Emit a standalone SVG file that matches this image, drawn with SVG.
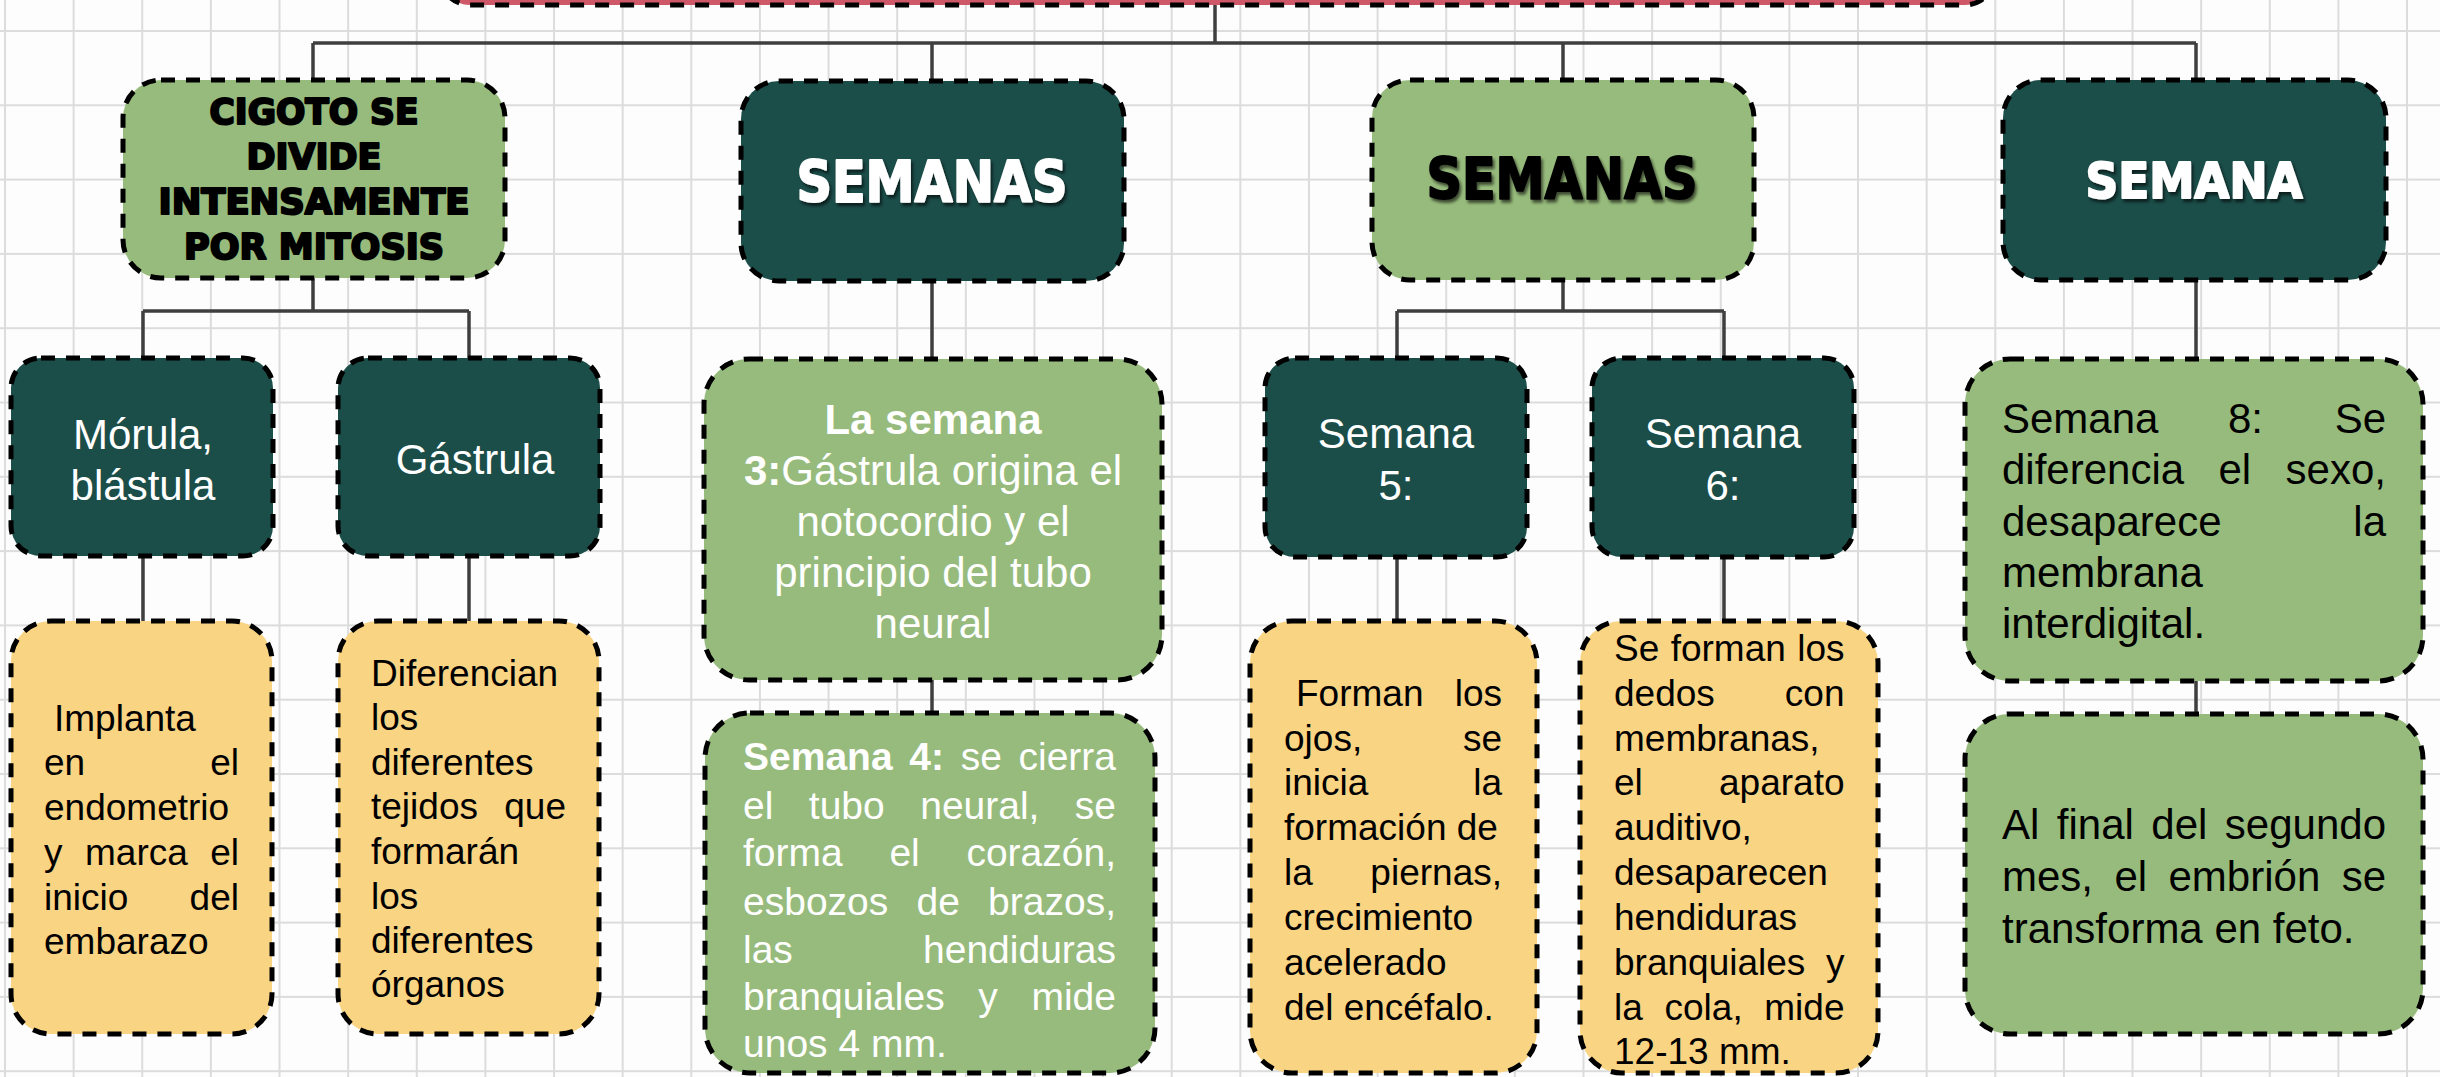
<svg xmlns="http://www.w3.org/2000/svg" width="2440" height="1077" viewBox="0 0 2440 1077">
<style>
.box{stroke:#000;stroke-width:5;stroke-dasharray:14 11}
.dark{fill:#1b4d49}
.lg{fill:#97bb7c}
.yel{fill:#f9d483}
.pink{fill:#cf5868}
.cn{fill:none;stroke:#3f3f3f;stroke-width:3.5}
.disp{font-family:"DejaVu Sans",sans-serif;font-weight:bold;text-anchor:middle;stroke-linejoin:round}
.t{font-family:"Liberation Sans",Arial,sans-serif}
.c{text-anchor:middle}
.e{text-anchor:end}
.b{font-weight:bold}
.w{fill:#fff}
.k{fill:#000}
</style>
<defs>
<pattern id="grid" x="4" y="30" width="68.63" height="74.3" patternUnits="userSpaceOnUse">
<path d="M1 0V74.3M0 1H68.63" stroke="#dcdcdc" stroke-width="2" fill="none"/>
</pattern>
<filter id="sh" x="-10%" y="-20%" width="120%" height="150%">
<feDropShadow dx="2" dy="3" stdDeviation="1.5" flood-color="#000" flood-opacity="0.6"/>
</filter>
</defs>
<rect width="2440" height="1077" fill="#fdfdfd"/>
<rect width="2440" height="1077" fill="url(#grid)"/>

<g id="connectors">
<path class="cn" d="M1215 5V43M313 43H2196M313 43V80M932 43V81M1563 43V80M2196 43V80"/>
<path class="cn" d="M313 278V311M143 311H469M143 311V358M469 311V358"/>
<path class="cn" d="M143 556V621M469 556V621"/>
<path class="cn" d="M932 281V359M932 680V713"/>
<path class="cn" d="M1563 280V311M1397 311H1724M1397 311V358M1724 311V358"/>
<path class="cn" d="M1397 557V621M1724 557V621"/>
<path class="cn" d="M2196 280V359M2196 681V714"/>
</g>

<g id="title">
<rect class="box pink" x="440" y="-60" width="1555" height="65" rx="30"/>
</g>

<g id="n-cigoto">
<rect class="box lg" x="123" y="80" width="382" height="198" rx="38"/>
<g class="disp k" font-size="36" stroke="#000" stroke-width="2.2">
<text x="314" y="124" textLength="209" lengthAdjust="spacingAndGlyphs">CIGOTO SE</text>
<text x="314" y="169" textLength="135" lengthAdjust="spacingAndGlyphs">DIVIDE</text>
<text x="314" y="214" textLength="311" lengthAdjust="spacingAndGlyphs">INTENSAMENTE</text>
<text x="314" y="259" textLength="260" lengthAdjust="spacingAndGlyphs">POR MITOSIS</text>
</g>
</g>

<g id="n-semanas1">
<rect class="box dark" x="741" y="81" width="383" height="200" rx="38"/>
<text class="disp w" x="932" y="202" font-size="57" textLength="271" lengthAdjust="spacingAndGlyphs" stroke="#fff" stroke-width="2" filter="url(#sh)">SEMANAS</text>
</g>

<g id="n-semanas2">
<rect class="box lg" x="1372" y="80" width="382" height="200" rx="38"/>
<text class="disp k" x="1562" y="199" font-size="57" textLength="271" lengthAdjust="spacingAndGlyphs" stroke="#000" stroke-width="2" filter="url(#sh)">SEMANAS</text>
</g>

<g id="n-semana">
<rect class="box dark" x="2003" y="80" width="383" height="200" rx="38"/>
<text class="disp w" x="2194" y="198" font-size="49" textLength="217" lengthAdjust="spacingAndGlyphs" stroke="#fff" stroke-width="2" filter="url(#sh)">SEMANA</text>
</g>

<g id="n-morula">
<rect class="box dark" x="11" y="358" width="262" height="198" rx="30"/>
<g class="t c w" font-size="42">
<text x="143" y="449">Mórula,</text>
<text x="143" y="500">blástula</text>
</g>
</g>

<g id="n-gastrula">
<rect class="box dark" x="338" y="358" width="262" height="198" rx="30"/>
<text class="t c w" font-size="42" x="475" y="474">Gástrula</text>
</g>

<g id="n-implanta">
<rect class="box yel" x="11" y="621" width="261" height="413" rx="40"/>
<g class="t k" font-size="37">
<text x="54" y="731">Implanta</text>
<text y="775"><tspan x="44">en</tspan></text>
<text x="239" y="775" class="e">el</text>
<text x="44" y="820">endometrio</text>
<text y="865"><tspan x="44">y</tspan><tspan x="85">marca</tspan></text>
<text x="239" y="865" class="e">el</text>
<text x="44" y="910">inicio</text>
<text x="239" y="910" class="e">del</text>
<text x="44" y="954">embarazo</text>
</g>
</g>

<g id="n-diferencian">
<rect class="box yel" x="338" y="621" width="261" height="413" rx="40"/>
<g class="t k" font-size="37">
<text x="371" y="686">Diferencian</text>
<text x="371" y="730">los</text>
<text x="371" y="775">diferentes</text>
<text x="371" y="819">tejidos</text>
<text x="566" y="819" class="e">que</text>
<text x="371" y="864">formarán</text>
<text x="371" y="909">los</text>
<text x="371" y="953">diferentes</text>
<text x="371" y="997">órganos</text>
</g>
</g>

<g id="n-semana3">
<rect class="box lg" x="704" y="359" width="458" height="321" rx="45"/>
<g class="t c w" font-size="42">
<text x="933" y="434" class="b">La semana</text>
<text x="933" y="485"><tspan class="b">3:</tspan>Gástrula origina el</text>
<text x="933" y="536">notocordio y el</text>
<text x="933" y="587">principio del tubo</text>
<text x="933" y="638">neural</text>
</g>
</g>

<g id="n-semana4">
<rect class="box lg" x="705" y="713" width="450" height="360" rx="45"/>
<g class="t w" font-size="39">
<text y="770"><tspan x="743" class="b">Semana</tspan><tspan x="909.3" class="b">4:</tspan><tspan x="960.7">se</tspan></text>
<text x="1116" y="770" class="e">cierra</text>
<text y="819"><tspan x="743">el</tspan><tspan x="808.8">tubo</tspan><tspan x="920.2">neural,</tspan></text>
<text x="1116" y="819" class="e">se</text>
<text y="866"><tspan x="743">forma</tspan><tspan x="889.4">el</tspan></text>
<text x="1116" y="866" class="e">corazón,</text>
<text y="915"><tspan x="743">esbozos</tspan><tspan x="916.5">de</tspan></text>
<text x="1116" y="915" class="e">brazos,</text>
<text x="743" y="963">las</text>
<text x="1116" y="963" class="e">hendiduras</text>
<text y="1010"><tspan x="743">branquiales</tspan><tspan x="978.3">y</tspan></text>
<text x="1116" y="1010" class="e">mide</text>
<text x="743" y="1057">unos 4 mm.</text>
</g>
</g>

<g id="n-semana5">
<rect class="box dark" x="1265" y="358" width="262" height="199" rx="30"/>
<g class="t c w" font-size="42">
<text x="1396" y="448">Semana</text>
<text x="1396" y="500">5:</text>
</g>
</g>

<g id="n-semana6">
<rect class="box dark" x="1592" y="358" width="262" height="199" rx="30"/>
<g class="t c w" font-size="42">
<text x="1723" y="448">Semana</text>
<text x="1723" y="500">6:</text>
</g>
</g>

<g id="n-forman">
<rect class="box yel" x="1250" y="621" width="287" height="452" rx="42"/>
<g class="t k" font-size="37">
<text x="1296" y="706">Forman</text>
<text x="1502" y="706" class="e">los</text>
<text x="1284" y="751">ojos,</text>
<text x="1502" y="751" class="e">se</text>
<text x="1284" y="795">inicia</text>
<text x="1502" y="795" class="e">la</text>
<text x="1284" y="840">formación de</text>
<text x="1284" y="885">la</text>
<text x="1502" y="885" class="e">piernas,</text>
<text x="1284" y="930">crecimiento</text>
<text x="1284" y="975">acelerado</text>
<text x="1284" y="1020">del encéfalo.</text>
</g>
</g>

<g id="n-seforman">
<rect class="box yel" x="1580" y="621" width="298" height="452" rx="42"/>
<g class="t k" font-size="37">
<text y="661"><tspan x="1614">Se</tspan><tspan x="1670.7">forman</tspan></text>
<text x="1844.5" y="661" class="e">los</text>
<text x="1614" y="706">dedos</text>
<text x="1844.5" y="706" class="e">con</text>
<text x="1614" y="751">membranas,</text>
<text x="1614" y="795">el</text>
<text x="1844.5" y="795" class="e">aparato</text>
<text x="1614" y="840">auditivo,</text>
<text x="1614" y="885">desaparecen</text>
<text x="1614" y="930">hendiduras</text>
<text x="1614" y="975">branquiales</text>
<text x="1844.5" y="975" class="e">y</text>
<text y="1020"><tspan x="1614">la</tspan><tspan x="1664.5">cola,</tspan></text>
<text x="1844.5" y="1020" class="e">mide</text>
<text x="1614" y="1064">12-13 mm.</text>
</g>
</g>

<g id="n-semana8">
<rect class="box lg" x="1965" y="359" width="458" height="322" rx="45"/>
<g class="t k" font-size="42">
<text y="433"><tspan x="2002">Semana</tspan><tspan x="2228">8:</tspan></text>
<text x="2386" y="433" class="e">Se</text>
<text y="484"><tspan x="2002">diferencia</tspan><tspan x="2218.5">el</tspan></text>
<text x="2386" y="484" class="e">sexo,</text>
<text x="2002" y="536">desaparece</text>
<text x="2386" y="536" class="e">la</text>
<text x="2002" y="587">membrana</text>
<text x="2002" y="638">interdigital.</text>
</g>
</g>

<g id="n-alfinal">
<rect class="box lg" x="1965" y="714" width="458" height="320" rx="45"/>
<g class="t k" font-size="42">
<text y="839"><tspan x="2002">Al</tspan><tspan x="2056.8">final</tspan><tspan x="2151.3">del</tspan></text>
<text x="2386" y="839" class="e">segundo</text>
<text y="891"><tspan x="2002">mes,</tspan><tspan x="2114.4">el</tspan><tspan x="2168.5">embrión</tspan></text>
<text x="2386" y="891" class="e">se</text>
<text x="2002" y="943">transforma en feto.</text>
</g>
</g>
</svg>
